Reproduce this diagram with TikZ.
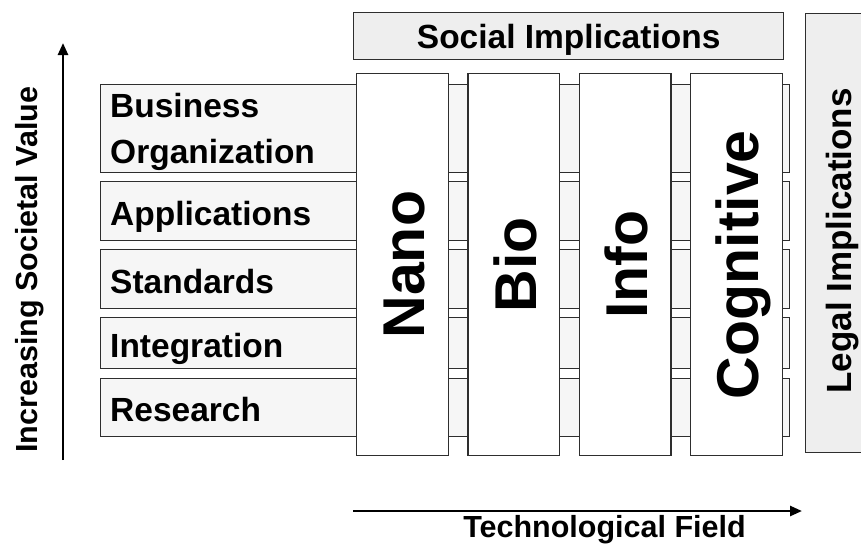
\documentclass[tikz,border=0pt]{standalone}
\usepackage{fontspec}
\setmainfont{Liberation Sans}
\usetikzlibrary{arrows.meta}
\definecolor{rowfill}{HTML}{F6F6F6}
\definecolor{implfill}{HTML}{EEEEEE}
\definecolor{edge}{HTML}{2E2E2E}
\begin{document}
\begin{tikzpicture}[x=1pt,y=-1pt,
  rowbox/.style={draw=edge, line width=1.3pt, fill=rowfill, inner sep=0pt, anchor=north west},
  colbox/.style={draw=edge, line width=1.3pt, fill=white, inner sep=0pt, anchor=north west, minimum width=91.5pt, minimum height=382pt},
  implbox/.style={draw=edge, line width=1.3pt, fill=implfill, inner sep=0pt},
  lbl/.style={inner sep=0pt, font=\bfseries\fontsize{33.5}{46}\selectfont},
  biglbl/.style={inner sep=0pt, rotate=90, anchor=base, font=\bfseries\fontsize{59}{70}\selectfont},
  axislbl/.style={inner sep=0pt, anchor=base, font=\bfseries\fontsize{30.5}{36}\selectfont},
  axisarrow/.style={line width=2.5pt, -{Triangle[length=12pt,width=10pt]}}]
\useasboundingbox (0,0) rectangle (861,550);

% rows
\node[rowbox, minimum width=689pt, minimum height=88pt] (rBus) at (100,84) {};
\node[rowbox, minimum width=689pt, minimum height=59pt] (rApp) at (100,181) {};
\node[rowbox, minimum width=689pt, minimum height=59pt] (rStd) at (100,249) {};
\node[rowbox, minimum width=689pt, minimum height=51pt] (rInt) at (100,317) {};
\node[rowbox, minimum width=689pt, minimum height=58pt] (rRes) at (100,378) {};

\node[lbl, anchor=base west, align=left] (tBus) at (110,163) {Business\\Organization};
\node[lbl, anchor=base west] (tApp) at (110,225) {Applications};
\node[lbl, anchor=base west] (tStd) at (110,293) {Standards};
\node[lbl, anchor=base west] (tInt) at (110,357) {Integration};
\node[lbl, anchor=base west] (tRes) at (110,421.5) {Research};

% columns
\node[colbox] (cNano) at (356,73) {};
\node[colbox] (cBio) at (467.3,73) {};
\node[colbox] (cInfo) at (578.7,73) {};
\node[colbox] (cCog) at (690,73) {};

\node[biglbl] (tNano) at ([xshift=22.5pt]cNano.center) {Nano};
\node[biglbl] (tBio) at ([xshift=22.5pt]cBio.center) {Bio};
\node[biglbl] (tInfo) at ([xshift=22.5pt]cInfo.center) {Info};
\node[biglbl] (tCog) at ([xshift=22.5pt]cCog.center) {Cognitive};

% implications
\node[implbox, lbl, anchor=north west, minimum width=430pt, minimum height=47pt, text depth=0pt] (social) at (353,12) {Social Implications};
\node[implbox, anchor=north west, minimum width=80pt, minimum height=439pt] (legal) at (805,13) {};
\node[inner sep=0pt, rotate=90, anchor=base, font=\bfseries\fontsize{35}{42}\selectfont] (tLegal) at (851,241) {Legal Implications};

% axes
\coordinate (vBot) at (63,460);
\coordinate (vTop) at (63,43);
\draw[axisarrow] (vBot) -- (vTop);
\node[axislbl, rotate=90] (tVal) at (37,269.5) {Increasing Societal Value};

\coordinate (hL) at (353,511);
\coordinate (hR) at (802,511);
\draw[axisarrow] (hL) -- (hR);
\node[axislbl] (tTech) at (604.5,537) {Technological Field};
\end{tikzpicture}
\end{document}
